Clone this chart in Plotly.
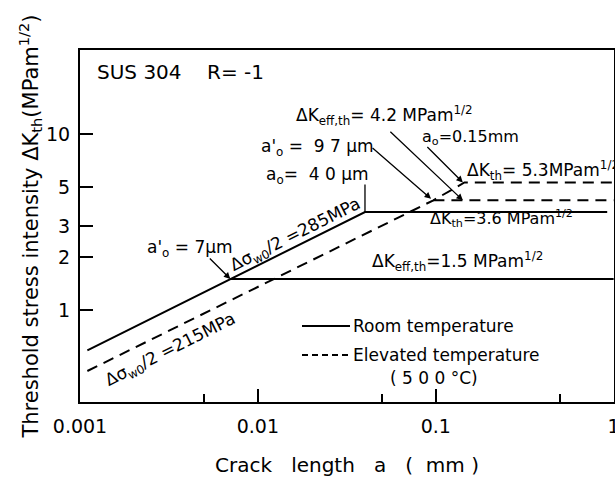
import math
import plotly.graph_objects as go

# ---------------- data ----------------
room_a = [0.0011, 0.007, 0.04, 0.92]      # crack length (mm), room temperature
room_k = [0.59, 1.5, 3.6, 3.6]            # ΔKth (MPa m^1/2)
room_eff_a = [0.007, 1.0]
room_eff_k = [1.5, 1.5]

elev_a = [0.0011, 0.097, 0.145, 1.0]      # elevated temperature (500°C)
elev_k = [0.45, 4.2, 5.3, 5.3]
elev_eff_a = [0.097, 1.0]
elev_eff_k = [4.2, 4.2]

x_tickvals = [0.001, 0.01, 0.1, 1]
x_ticktext = ["0.001", "0.01", "0.1", "1"]
x_minor = [0.005, 0.05, 0.5]
y_tickvals = [1, 2, 3, 5, 10]
y_ticktext = ["1", "2", "3", "5", "10"]

# ---------------- layout geometry ----------------
W, H = 615, 481
ML, MR, MT, MB = 80, 1, 50, 79
PW, PH = W - ML - MR, H - MT - MB
FONT = "DejaVu Sans"

def px(x):
    return (x - ML) / PW

def py(y):
    return (MT + PH - y) / PH

fig = go.Figure()
line_style = dict(color="black", width=2)
dash_style = dict(color="black", width=2, dash="11px,7px")

fig.add_trace(go.Scatter(x=room_a, y=room_k, mode="lines", line=line_style,
                         name="Room temperature", showlegend=False))
fig.add_trace(go.Scatter(x=room_eff_a, y=room_eff_k, mode="lines", line=line_style,
                         showlegend=False))
fig.add_trace(go.Scatter(x=elev_a, y=elev_k, mode="lines", line=dash_style,
                         name="Elevated temperature (500°C)", showlegend=False))
fig.add_trace(go.Scatter(x=elev_eff_a, y=elev_eff_k, mode="lines", line=dash_style,
                         showlegend=False))

ann = []

def text(t, x, y, xanchor="left", size=17, angle=0):
    ann.append(dict(text=t, x=px(x), y=py(y), xref="paper", yref="paper",
                    xanchor=xanchor, yanchor="middle", showarrow=False,
                    textangle=angle, font=dict(family=FONT, size=size, color="black")))

def arrow(xd, yd, ax, ay, head=2):
    ann.append(dict(text="", x=math.log10(xd), y=math.log10(yd), xref="x", yref="y",
                    ax=ax, ay=ay, showarrow=True, arrowhead=head, arrowsize=1,
                    arrowwidth=1.3, arrowcolor="black"))

text("SUS 304 &nbsp; &nbsp;R= -1", 95, 72, size=20)
text("ΔK<sub>eff,th</sub>= 4.2 MPam<sup>1/2</sup>", 294, 115)
text("a'<sub>o</sub> = &nbsp;9 7 µm", 259, 147)
text("a<sub>o</sub>= &nbsp;4 0 µm", 264, 175)
text("a<sub>o</sub>=0.15mm", 420, 137, size=16)
text("ΔK<sub>th</sub>= 5.3MPam<sup>1/2</sup>", 465, 170)
text("ΔK<sub>th</sub>=3.6 MPam<sup>1/2</sup>", 428, 218, size=16)
text("ΔK<sub>eff,th</sub>=1.5 MPam<sup>1/2</sup>", 370, 261)
text("a'<sub>o</sub> = 7µm", 145, 248)
text("Δσ<sub>w0</sub>/2 =285MPa", 295, 235, xanchor="center", angle=-26.6)
text("Δσ<sub>w0</sub>/2 =215MPa", 170, 350, xanchor="center", angle=-26.6)

# legend (manual)
text("Room temperature", 351, 326)
text("Elevated temperature", 351, 355)
text("( 5 0 0 °C)", 388, 378)

# arrows / pointers
arrow(room_a[1], room_k[1], -22, -22)
arrow(elev_a[1] * 0.97, elev_k[1] * 1.02, -60, -52)
arrow(0.142, elev_eff_k[0], -74, -70)
arrow(0.142, elev_k[2], -37, -37)
arrow(room_a[2], room_k[2], 0, -29, head=0)

shapes = [
    dict(type="line", xref="paper", yref="paper", x0=px(302), x1=px(350),
         y0=py(326), y1=py(326), line=dict(color="black", width=2)),
    dict(type="line", xref="paper", yref="paper", x0=px(302), x1=px(350),
         y0=py(355), y1=py(355), line=dict(color="black", width=2, dash="6px,4px")),
]

fig.update_layout(
    width=W, height=H,
    margin=dict(l=ML, r=MR, t=MT, b=MB),
    paper_bgcolor="white", plot_bgcolor="white",
    font=dict(family=FONT, size=18, color="black"),
    annotations=ann, shapes=shapes, showlegend=False,
    xaxis=dict(type="log", range=[-3, 0.002], tickvals=x_tickvals, ticktext=x_ticktext,
               ticks="inside", ticklen=13, tickwidth=1.5, tickcolor="black",
               minor=dict(tickvals=x_minor, ticks="inside", ticklen=8, tickwidth=1.5,
                          tickcolor="black", showgrid=False),
               showgrid=False, zeroline=False, showline=True, linecolor="black",
               linewidth=2, mirror=True, automargin=False, ticklabelstandoff=6,
               ticklabeloverflow="allow",
               tickfont=dict(family=FONT, size=19),
               title=dict(text="Crack &nbsp; length &nbsp; a &nbsp; ( &nbsp;mm )", standoff=22,
                          font=dict(family=FONT, size=20))),
    yaxis=dict(type="log", range=[math.log10(0.3), math.log10(30)],
               tickvals=y_tickvals, ticktext=y_ticktext,
               ticks="inside", ticklen=13, tickwidth=1.5, tickcolor="black",
               showgrid=False, zeroline=False, showline=True, linecolor="black",
               linewidth=2, mirror=True, automargin=False, ticklabelstandoff=4,
               tickfont=dict(family=FONT, size=19),
               title=dict(text="Threshold stress intensity ΔK<sub>th</sub>(MPam<sup>1/2</sup>)",
                          standoff=2, font=dict(family=FONT, size=21))),
)

fig.write_html("out.html")
